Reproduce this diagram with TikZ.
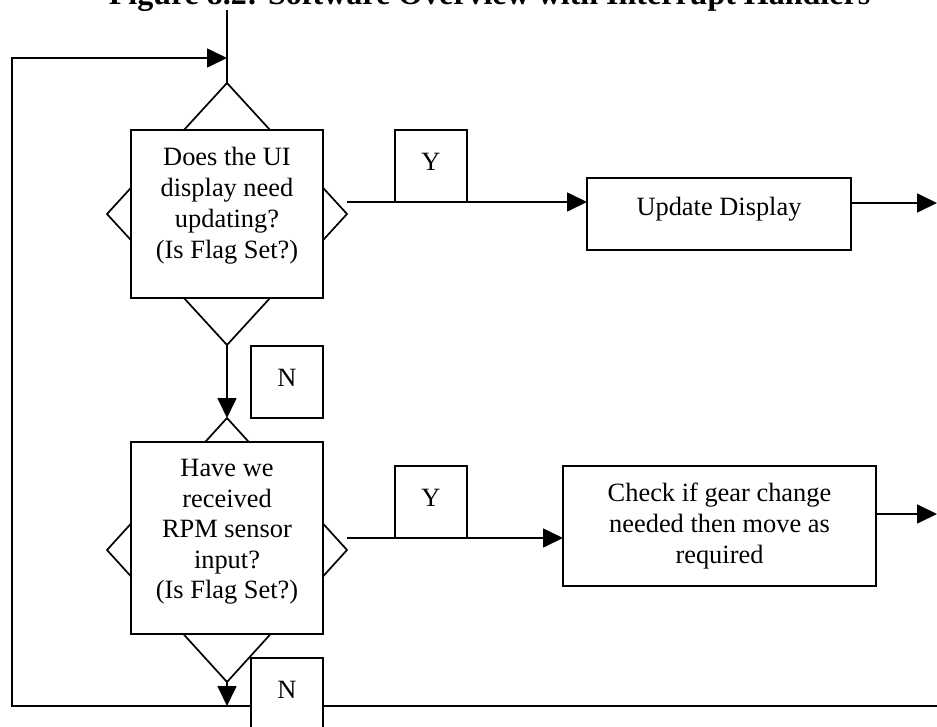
\documentclass[tikz,border=0pt]{standalone}
\usepackage{fontspec}
\setmainfont{Liberation Serif}
\usetikzlibrary{shapes.geometric,arrows.meta}
\begin{document}
\begin{tikzpicture}[x=1pt,y=-1pt,line width=1.7pt,
  every node/.style={font=\fontsize{26.4}{30.8}\selectfont},
  arr/.style={-{Triangle[length=20pt,width=19pt]}},
  decision/.style={diamond,draw,inner sep=0pt,outer sep=0pt,minimum width=240pt},
  qbox/.style={rectangle,draw,fill=white,minimum width=192pt,inner sep=0pt,outer sep=0pt},
  qtext/.style={align=center,inner sep=0pt},
  actbox/.style={rectangle,draw,fill=white,align=center,inner sep=0pt,outer sep=0pt},
  ynbox/.style={rectangle,draw,fill=white,minimum width=72pt,minimum height=72pt,
                inner sep=0pt,outer sep=0pt,text height=17.5pt,text depth=8pt},
]
\useasboundingbox (0,0) rectangle (937,727);
\clip (0,0) rectangle (937,727);

% heading
\node[font=\fontsize{32}{38}\selectfont\bfseries,anchor=base,inner sep=0pt] (title)
  at (489.5,5) {Figure 8.2: Software Overview with Interrupt Handlers};

% first decision: display flag
\node[decision,minimum height=262pt] (d1) at (227,214) {};
\node[qbox,minimum height=168pt] (q1) at (227,214) {};
\node[qtext] (q1t) at (227,205.5) {Does the UI\\display need\\updating?\\(Is Flag Set?)};

% second decision: RPM flag
\node[decision,minimum height=264pt] (d2) at (227,550) {};
\node[qbox,minimum height=192pt] (q2) at (227,538) {};
\node[qtext,font=\fontsize{26.4}{30.5}\selectfont] (q2t) at (227,532)
  {Have we\\received\\RPM sensor\\input?\\(Is Flag Set?)};

% actions
\node[actbox,minimum width=264pt,minimum height=72pt,text height=18pt,text depth=14pt]
  (upd) at (719,214) {Update Display};
\node[actbox,minimum width=313pt,minimum height=120pt] (chk) at (719.5,526)
  {Check if gear change\\needed then move as\\required};

% connectors
\coordinate (entry) at (227,10);
\coordinate (back) at (937,706);
\coordinate (loopbl) at (12,706);
\coordinate (looptl) at (12,58);
\coordinate (join) at (227,58);
\draw (entry) -- (d1.north);
\draw[arr] (back) -- (loopbl) -- (looptl) -- (join);
\draw[arr] (d1.south) -- (d2.north);
\draw[arr] (d2.south) -- (d2.south |- back);

\coordinate (in1) at ([yshift=12pt]upd.west);
\draw[arr] (d1.east |- in1) -- (in1);
\coordinate (out1) at ([yshift=11pt]upd.east);
\draw[arr] (out1) -- (out1 -| back);

\coordinate (in2) at ([yshift=-12pt]chk.west);
\draw[arr] (d2.east |- in2) -- (in2);
\coordinate (out2) at ([yshift=12pt]chk.east);
\draw[arr] (out2) -- (out2 -| back);

% branch labels
\node[ynbox] (y1) at (431,166) {Y};
\node[ynbox] (y2) at (431,502) {Y};
\node[ynbox] (n1) at (287,382) {N};
\node[ynbox] (n2) at (287,694) {N};
\end{tikzpicture}
\end{document}
